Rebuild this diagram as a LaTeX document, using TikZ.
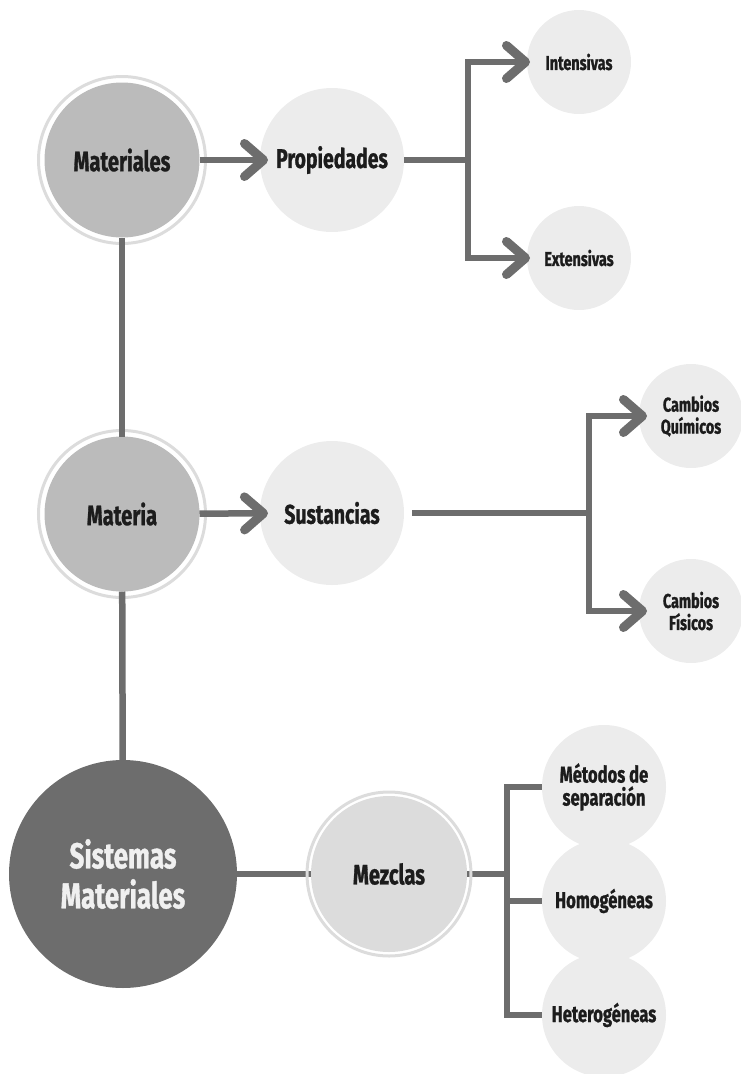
\documentclass[tikz,border=0pt]{standalone}
\usepackage{fontspec}
\setmainfont{Fira Sans}[FakeStretch=0.72, BoldFeatures={FakeBold=1}]
\usetikzlibrary{arrows.meta}
\definecolor{conn}{HTML}{6D6D6D}
\definecolor{midg}{HTML}{BBBBBB}
\definecolor{lightg}{HTML}{ECECEC}
\definecolor{ringg}{HTML}{DCDCDC}
\definecolor{mezg}{HTML}{DCDCDC}
\definecolor{darkg}{HTML}{6D6D6D}
\definecolor{txt}{HTML}{1C1C1C}
\tikzset{
  bub/.style={circle, inner sep=0pt, outer sep=0pt, text=txt, align=center},
  mainbub/.style={bub, fill=midg, minimum size=155pt, font=\bfseries\fontsize{28}{32}\selectfont},
  propbub/.style={bub, fill=lightg, minimum size=144pt, font=\bfseries\fontsize{27}{32}\selectfont},
  leafbub/.style={bub, fill=lightg, minimum size=104pt, font=\bfseries\fontsize{20}{22}\selectfont},
  mixleaf/.style={bub, fill=lightg, minimum size=124pt, font=\bfseries\fontsize{23}{23}\selectfont},
  sisbub/.style={bub, fill=darkg, text=white!94!black, minimum size=228pt, font=\bfseries\fontsize{36}{40}\selectfont},
  mezbub/.style={bub, fill=mezg, minimum size=156pt, font=\bfseries\fontsize{28}{32}\selectfont},
  ring/.style={draw=ringg, line width=3pt},
  link/.style={draw=conn, line width=6.5pt},
  arr/.style={link, -{Straight Barb[length=19pt, width=33pt, line width=2.5pt 1, round]}},
}
\begin{document}
\begin{tikzpicture}[x=1pt, y=-1pt]
\useasboundingbox (0,0) rectangle (741,1074);
% nodes
\node[mainbub] (mat) at (122,160) {Materiales};
\node[propbub] (prop) at (332,160) {Propiedades};
\node[leafbub] (int) at (579,62) {Intensivas};
\node[leafbub] (ext) at (579,258) {Extensivas};
\node[mainbub] (matr) at (122,514) {Materia};
\node[propbub] (sus) at (332,513) {Sustancias};
\node[leafbub] (cq) at (691,416) {Cambios\\Químicos};
\node[leafbub] (cf) at (691,611) {Cambios\\Físicos};
\node[sisbub] (sis) at (123,874) {Sistemas\\Materiales};
\node[mezbub] (mez) at (389,874) {Mezclas};
\node[mixleaf] (met) at (604,787) {Métodos de\\separación};
\node[mixleaf] (hom) at (604,901) {Homogéneas};
\node[mixleaf] (het) at (604,1015) {Heterogéneas};
% rings
\draw[ring] (mat.center) circle (83.5pt);
\draw[ring] (matr.center) circle (83.5pt);
% junctions
\coordinate (j1) at (468,160);
\coordinate (j2) at (589,513);
\coordinate (j3) at (507,874);
% connectors
\draw[link] (mat) -- (matr);
\draw[link] (matr) -- (sis);
\draw[arr, shorten >=-8pt] (mat) -- (prop);
\draw[arr, shorten >=-8pt] (matr) -- (sus);
\draw[link] (prop) -- (j1);
\draw[arr, shorten >=-3pt] (j1) |- (int);
\draw[arr, shorten >=-3pt] (j1) |- (ext);
\draw[link, shorten <=8pt] (sus) -- (j2);
\draw[arr, shorten >=-8pt] (j2) |- (cq);
\draw[arr, shorten >=-8pt] (j2) |- (cf);
\draw[link] (sis) -- (mez);
\draw[link] (mez) -- (j3);
\draw[link] (j3) |- (met);
\draw[link] (j3) |- (hom);
\draw[link] (j3) |- (het);
\draw[ring] (mez.center) circle (82pt);
\end{tikzpicture}
\end{document}
